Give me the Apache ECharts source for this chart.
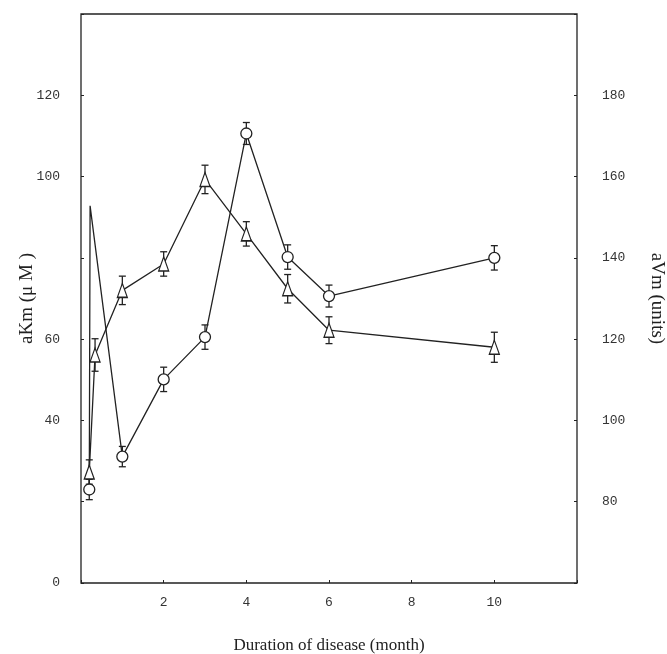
<!DOCTYPE html>
<html>
<head>
<meta http-equiv="Content-Type" content="text/html; charset=utf-8" />
<title></title>
<style>
  html, body { margin: 0; padding: 0; background: #fff; overflow: hidden; }
</style>
</head>
<body>
<div id="main" style="width: 667px;height:654px;"></div>
<script src="https://cdn.jsdelivr.net/npm/echarts@6/dist/echarts.min.js" type="text/javascript"></script>
<script type="text/javascript">
// circles: aKm (left axis), triangles: aVm (right axis)
var kmMonths = [0.2, 0.22, 1, 2, 3, 4, 5, 6, 10];
var kmValues = [23, 92.8, 31.1, 50.1, 60.5, 110.6, 80.2, 70.6, 80];
var kmErrors = [2.5, 0, 2.5, 3, 3, 2.7, 3, 2.7, 3];

var vmMonths = [0.2, 0.34, 1, 2, 3, 4, 5, 6, 10];
var vmValues = [87.3, 116.1, 132, 138.5, 159.3, 145.9, 132.4, 122.2, 118];
var vmErrors = [3, 4, 3.5, 3, 3.5, 3, 3.5, 3.3, 3.7];

var leftTickLabels = ['0', '40', '60', '100', '120'];
var rightTickLabels = ['80', '100', '120', '140', '160', '180'];
var xTickLabels = ['2', '4', '6', '8', '10'];

var ink = '#222';
var font = 'Liberation Serif, DejaVu Serif, serif';
var tickFont = 'Liberation Mono, DejaVu Sans Mono, monospace';

function pointData(xs, ys) {
    var out = [];
    for (var i = 0; i < xs.length; i++) {
        var item = { value: [xs[i], ys[i]] };
        if (xs === kmMonths && i === 1) item.symbol = 'none';
        out.push(item);
    }
    return out;
}

function errorData(xs, ys, es) {
    var out = [];
    for (var i = 0; i < xs.length; i++) {
        if (es[i] > 0) out.push([xs[i], ys[i] - es[i], ys[i] + es[i]]);
    }
    return out;
}

function renderError(params, api) {
    var lo = api.coord([api.value(0), api.value(1)]);
    var hi = api.coord([api.value(0), api.value(2)]);
    var w = 3.5;
    var style = { stroke: ink, lineWidth: 1.3 };
    return {
        type: 'group',
        children: [
            { type: 'line', shape: { x1: lo[0], y1: lo[1], x2: hi[0], y2: hi[1] }, style: style },
            { type: 'line', shape: { x1: lo[0] - w, y1: lo[1], x2: lo[0] + w, y2: lo[1] }, style: style },
            { type: 'line', shape: { x1: hi[0] - w, y1: hi[1], x2: hi[0] + w, y2: hi[1] }, style: style }
        ]
    };
}

var myChart = echarts.init(document.getElementById('main'));
myChart.setOption({
    animation: false,
    backgroundColor: '#fff',
    grid: {
        left: 81, right: 90, top: 14, bottom: 71,
        outerBoundsMode: 'none',
        show: true, borderColor: ink, borderWidth: 1.3
    },
    xAxis: {
        type: 'value', min: 0, max: 12, interval: 2,
        name: 'Duration of disease (month)',
        nameLocation: 'middle', nameGap: 54,
        nameTextStyle: { fontFamily: font, fontSize: 17, color: ink },
        axisLine: { show: false },
        axisTick: { inside: true, length: 3, lineStyle: { color: ink } },
        splitLine: { show: false },
        axisLabel: {
            margin: 13, fontFamily: tickFont, fontSize: 13, color: '#333',
            formatter: function (v) { return xTickLabels.indexOf(String(v)) >= 0 ? String(v) : ''; }
        }
    },
    yAxis: [{
        type: 'value', min: 0, max: 140, interval: 20,
        name: 'aKm (\u03bc M )',
        nameLocation: 'middle', nameGap: 44, nameMoveOverlap: false,
        nameTextStyle: { fontFamily: font, fontSize: 19, color: ink },
        axisLine: { show: false },
        axisTick: { inside: true, length: 3, lineStyle: { color: ink } },
        splitLine: { show: false },
        axisLabel: {
            margin: 21, fontFamily: tickFont, fontSize: 13, color: '#333',
            formatter: function (v) { return leftTickLabels.indexOf(String(v)) >= 0 ? String(v) : ''; }
        }
    }, {
        type: 'value', min: 60, max: 200, interval: 20, position: 'right',
        name: 'aVm (units)',
        nameLocation: 'middle', nameGap: 70, nameRotate: -90, nameMoveOverlap: false,
        nameTextStyle: { fontFamily: font, fontSize: 19, color: ink },
        axisLine: { show: false },
        axisTick: { inside: true, length: 3, lineStyle: { color: ink } },
        splitLine: { show: false },
        axisLabel: {
            margin: 25, fontFamily: tickFont, fontSize: 13, color: '#333',
            formatter: function (v) { return rightTickLabels.indexOf(String(v)) >= 0 ? String(v) : ''; }
        }
    }],
    series: [{
        name: 'aKm err', type: 'custom', yAxisIndex: 0, z: 1,
        renderItem: renderError,
        data: errorData(kmMonths, kmValues, kmErrors)
    }, {
        name: 'aVm err', type: 'custom', yAxisIndex: 1, z: 1,
        renderItem: renderError,
        data: errorData(vmMonths, vmValues, vmErrors)
    }, {
        name: 'aKm', type: 'line', yAxisIndex: 0, z: 3,
        symbol: 'circle', symbolSize: 11,
        lineStyle: { color: ink, width: 1.3 },
        itemStyle: { color: '#fff', borderColor: ink, borderWidth: 1.3 },
        data: pointData(kmMonths, kmValues)
    }, {
        name: 'aVm', type: 'line', yAxisIndex: 1, z: 3,
        symbol: 'triangle', symbolSize: [10, 14],
        lineStyle: { color: ink, width: 1.3 },
        itemStyle: { color: '#fff', borderColor: ink, borderWidth: 1.3 },
        data: pointData(vmMonths, vmValues)
    }]
});
</script>
</body>
</html>
